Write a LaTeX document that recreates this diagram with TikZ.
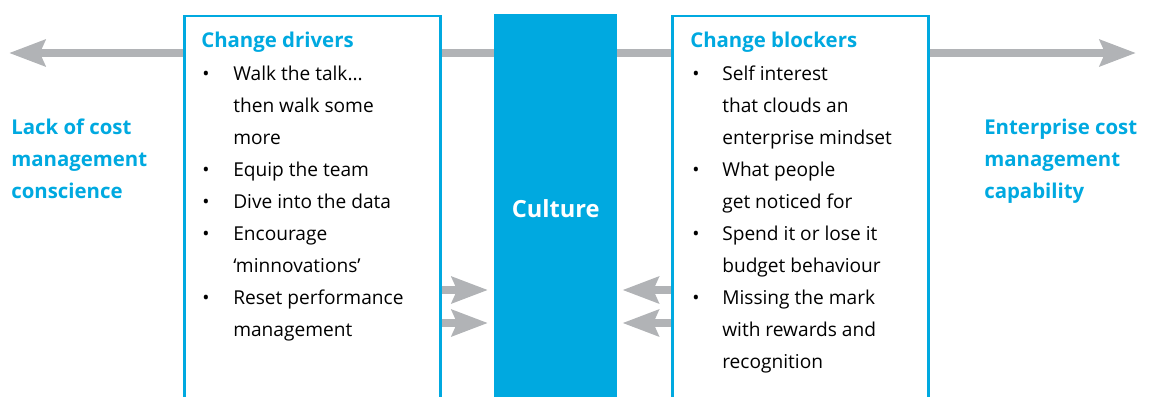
\documentclass[tikz,border=0pt]{standalone}
\usepackage{fontspec}
\setmainfont{Open Sans}
\usetikzlibrary{positioning, arrows.meta}

\definecolor{cian}{RGB}{0,169,224}
\definecolor{gris}{RGB}{177,179,182}

% Texto con interlineado fijo (base de la primera fila = base del nodo)
\newcommand{\pila}[1]{\begin{tabular}[t]{@{}l@{}}#1\end{tabular}}
\newcommand{\vinetas}[2]{\begin{tabular}[t]{@{}p{#1}@{}l@{}}#2\end{tabular}}

\begin{document}
\begin{tikzpicture}[x=0.025cm, y=-0.025cm,
		panel/.style={draw=cian, fill=white, line width=0.065cm, inner sep=0pt,
			minimum width=6.4cm, minimum height=9.7cm, anchor=north west},
		flecha/.style={gris, line width=0.2cm,
			-{Stealth[length=0.9cm, width=0.65cm, inset=0.13cm]}},
		titulo/.style={anchor=base west, inner sep=0pt, text=cian,
			font=\fontsize{14.5}{22.76}\selectfont\bfseries},
		lista/.style={anchor=base west, inner sep=0pt,
			font=\fontsize{13.6}{22.76}\selectfont}]
		
		% Marco de la figura
		\useasboundingbox (0,0) rectangle (1157,396);
		
		% --- 1. EJE HORIZONTAL (detrás de los paneles) ---
		\coordinate (extIzq) at (9,53);
		\coordinate (extDer) at (1136,53);
		\draw[flecha, {Stealth[length=0.9cm, width=0.65cm, inset=0.13cm]}-{Stealth[length=0.9cm, width=0.65cm, inset=0.13cm]}] (extIzq) -- (extDer);
		
		% --- 2. PANELES Y BLOQUE CENTRAL ---
		\node[panel] (drivers) at (183,14.5) {};
		\node[panel] (blockers) at (671,14.5) {};
		\node[fill=cian, inner sep=0pt, minimum width=3.075cm, minimum height=9.7cm,
			anchor=north west, text=white, font=\fontsize{16.8}{20}\selectfont\bfseries]
			(culture) at (494,14) {Culture};
		
		% --- 3. FLECHAS HACIA EL BLOQUE CENTRAL ---
		\coordinate (fila1) at (0,290);
		\coordinate (fila2) at (0,323);
		\foreach \f in {fila1, fila2} {
			\draw[flecha, shorten >=0.15cm] (drivers.east |- \f) -- (culture.west |- \f);
			\draw[flecha, shorten >=0.12cm] (blockers.west |- \f) -- (culture.east |- \f);
		}
		
		% --- 4. TEXTOS ---
		\node[titulo] (tDrivers) at (201,47.5) {Change drivers};
		\node[lista] (lDrivers) at (202,80) {\vinetas{0.775cm}{%
				• & Walk the talk...\\
				  & then walk some\\
				  & more\\
				• & Equip the team\\
				• & Dive into the data\\
				• & Encourage\\
				  & ‘minnovations’\\
				• & Reset performance\\
				  & management}};
		
		\node[titulo] (tBlockers) at (690,47.5) {Change blockers};
		\node[lista] (lBlockers) at (692,80) {\vinetas{0.75cm}{%
				• & Self interest\\
				  & that clouds an\\
				  & enterprise mindset\\
				• & What people\\
				  & get noticed for\\
				• & Spend it or lose it\\
				  & budget behaviour\\
				• & Missing the mark\\
				  & with rewards and\\
				  & recognition}};
		
		% Extremos del eje
		\node[titulo] (lack) at (11,134.5) {\pila{Lack of cost\\management\\conscience}};
		\node[titulo] (capability) at (984,134.5) {\pila{Enterprise cost\\management\\capability}};
		
	\end{tikzpicture}
\end{document}
